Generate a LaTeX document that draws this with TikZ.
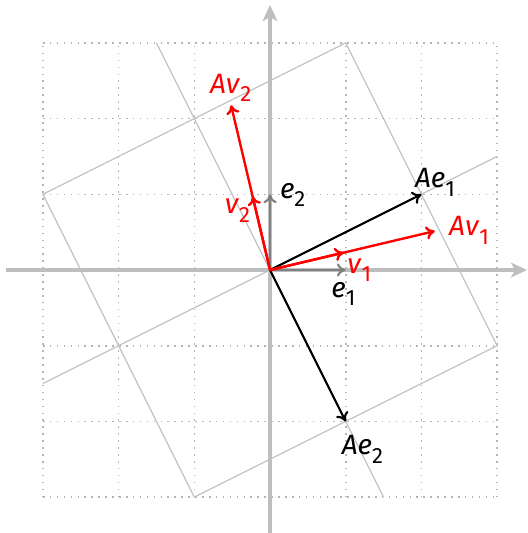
\documentclass[tikz,border=0pt]{standalone}
\usepackage{fontspec}
\setmainfont{Fira Sans}
\usetikzlibrary{arrows.meta}
\definecolor{axisgray}{RGB}{190,190,190}
\definecolor{gridgray}{RGB}{180,180,180}
\definecolor{thingray}{RGB}{195,195,195}
\definecolor{vecgray}{RGB}{128,128,128}
\definecolor{vred}{RGB}{255,0,0}
\newcommand{\sublab}[2]{\textit{#1}\raisebox{-0.6ex}{\fontsize{8.3}{9}\selectfont #2}}
\begin{document}
\begin{tikzpicture}[
  gridline/.style={gridgray, dotted, line width=0.6pt},
  imgline/.style={thingray, line width=0.45pt},
  axisline/.style={axisgray, line width=1.5pt, -{Stealth[length=6pt,width=5.5pt,inset=1.5pt]}},
  basevec/.style={vecgray, line width=0.8pt, -{To[length=3.3pt,width=5pt]}},
  redvec/.style={vred, line width=0.9pt, -{To[length=3.3pt,width=5pt]}},
  blackvec/.style={black, line width=0.8pt, -{To[length=3.3pt,width=5pt]}},
  lab/.style={font=\fontsize{10.5}{12}\selectfont, anchor=base, inner sep=0pt},
  redlab/.style={lab, text=vred},
]
\useasboundingbox (-3.567,-3.474) rectangle (3.395,3.567);

% dotted grid
\foreach \i in {-3,...,3} {
  \draw[gridline] (\i,-3) -- (\i,3);
  \draw[gridline] (-3,\i) -- (3,\i);
}

% image of grid lines under A
\coordinate (P1) at (-3,1);
\coordinate (P2) at (1,3);
\coordinate (P3) at (3,-1);
\coordinate (P4) at (-1,-3);
\draw[imgline] (P1) -- (P2) -- (P3) -- (P4) -- cycle;
\coordinate (Q1) at (-3,-1.5);
\coordinate (Q2) at (3,1.5);
\coordinate (Q3) at (-1.5,3);
\coordinate (Q4) at (1.5,-3);
\draw[imgline] (Q1) -- (Q2);
\draw[imgline] (Q3) -- (Q4);

% axes
\coordinate (xl) at (-3.49,0);
\coordinate (xr) at (3.395,0);
\coordinate (yb) at (0,-3.474);
\coordinate (yt) at (0,3.50);
\draw[axisline] (xl) -- (xr);
\draw[axisline] (yb) -- (yt);

% vectors
\coordinate (O) at (0,0);
\coordinate (E1) at (1,0);
\coordinate (E2) at (0,1);
\coordinate (AE1) at (2,1);
\coordinate (AE2) at (1,-2);
\coordinate (V1) at (0.973,0.230);
\coordinate (V2) at (-0.230,0.973);
\coordinate (AV1) at (2.176,0.514);
\coordinate (AV2) at (-0.514,2.176);

\draw[basevec] (O) -- (E1);
\draw[basevec] (O) -- (E2);
\draw[blackvec] (O) -- (AE1);
\draw[blackvec] (O) -- (AE2);
\draw[redvec] (O) -- (AV1);
\draw[redvec] (O) -- (AV2);
\draw[redvec] (O) -- (V1);
\draw[redvec] (O) -- (V2);

% labels
\node[lab] (le1) at (0.97,-0.357) {\sublab{e}{1}};
\node[lab] (le2) at (0.30,0.95) {\sublab{e}{2}};
\node[lab] (lAe1) at (2.18,1.09) {\textit{A}\sublab{e}{1}};
\node[lab] (lAe2) at (1.22,-2.44) {\textit{A}\sublab{e}{2}};
\node[redlab] (lv1) at (1.18,-0.04) {\sublab{v}{1}};
\node[redlab] (lv2) at (-0.43,0.75) {\sublab{v}{2}};
\node[redlab] (lAv1) at (2.63,0.46) {\textit{A}\sublab{v}{1}};
\node[redlab] (lAv2) at (-0.52,2.338) {\textit{A}\sublab{v}{2}};
\end{tikzpicture}
\end{document}
